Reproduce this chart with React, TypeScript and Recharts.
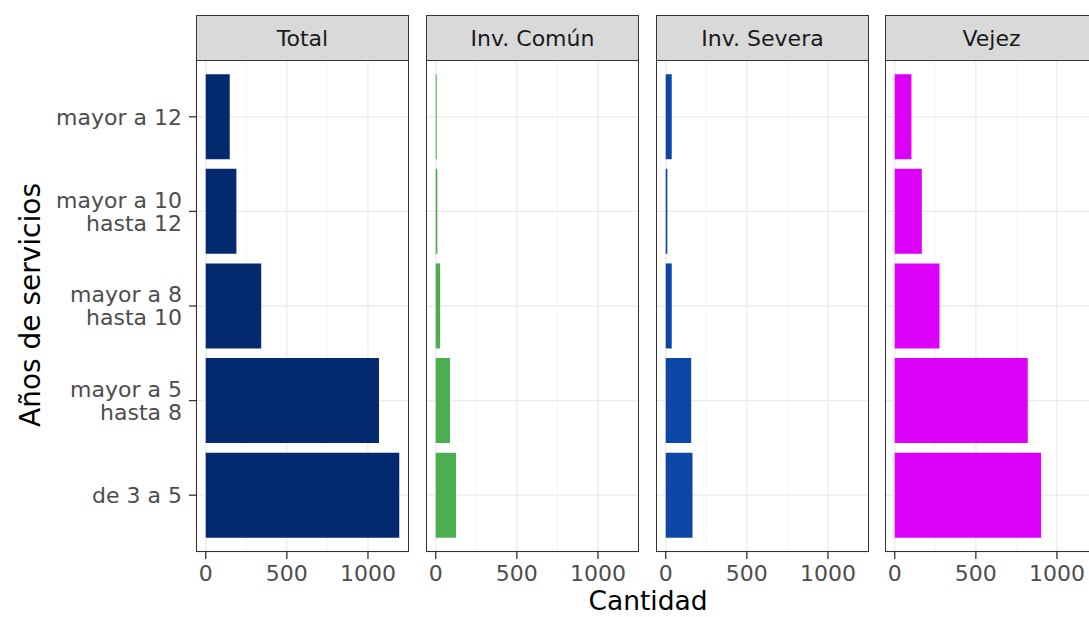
import React from 'react';
import { BarChart, Bar, XAxis, YAxis, CartesianGrid } from 'recharts';

// años de servicio (de arriba hacia abajo)
const categories = ['mayor a 12', 'mayor a 10\nhasta 12', 'mayor a 8\nhasta 10', 'mayor a 5\nhasta 8', 'de 3 a 5'];

const total = [148, 189, 342, 1068, 1193];
const invComun = [6, 10, 27, 88, 125];
const invSevera = [37, 10, 37, 157, 165];
const vejez = [103, 167, 276, 820, 902];

const facetTitles = ['Total', 'Inv. Común', 'Inv. Severa', 'Vejez'];
const facetColors = ['#03296e', '#4cae4f', '#0c47a5', '#dd00f8'];
const xTicks = [0, 500, 1000];
const minorTicks = [250, 750];
const X_DOMAIN: [number, number] = [-60, 1253];

const FONT = '"DejaVu Sans", sans-serif';
const PANEL_X = [196, 426, 656, 885];
const PANEL_W = 213;
const PANEL_TOP = 60;
const PANEL_H = 492;

const YTick = (props: any) => {
  const { x, y, payload } = props;
  const lines = String(payload.value).split('\n');
  const lh = 23;
  const start = -((lines.length - 1) * lh) / 2;
  return (
    <text x={x} y={y} textAnchor="end" fill="#4d4d4d" fontSize={22} fontFamily={FONT}>
      {lines.map((l, i) => (
        <tspan key={i} x={x} y={y + start + i * lh} dy="0.36em">
          {l}
        </tspan>
      ))}
    </text>
  );
};

const XTick = (props: any) => {
  const { x, y, payload } = props;
  return (
    <text x={x} y={y + 22} textAnchor="middle" fill="#4d4d4d" fontSize={22} fontFamily={FONT}>
      {payload.value}
    </text>
  );
};

// minor grid lines (ggplot draws them halfway between the major breaks)
const minorLines = ({ xAxis, offset }: any) =>
  minorTicks.map((t) => {
    if (xAxis && typeof xAxis.scale === 'function') return xAxis.scale(t);
    return offset.left + ((t - X_DOMAIN[0]) / (X_DOMAIN[1] - X_DOMAIN[0])) * offset.width;
  });

function Facet({ idx, values }: { idx: number; values: number[] }) {
  const data = categories.map((c, i) => ({ cat: c, value: values[i] }));
  const first = idx === 0;
  const left = first ? 0 : PANEL_X[idx];
  const width = first ? PANEL_X[0] + PANEL_W : PANEL_W;
  return (
    <div style={{ position: 'absolute', left, top: PANEL_TOP }}>
      <BarChart
        width={width}
        height={PANEL_H + 60}
        data={data}
        layout="vertical"
        margin={{ top: 0, right: 0, bottom: 0, left: 0 }}
        barCategoryGap="5%"
      >
        <CartesianGrid stroke="#f2f2f2" strokeWidth={0.7} horizontal={false} verticalCoordinatesGenerator={minorLines} />
        <CartesianGrid stroke="#ebebeb" strokeWidth={1.3} />
        <XAxis
          type="number"
          domain={X_DOMAIN}
          ticks={xTicks}
          allowDataOverflow
          height={60}
          axisLine={false}
          tickSize={7}
          tickMargin={0}
          tickLine={{ stroke: '#333333', strokeWidth: 1.3 }}
          tick={<XTick />}
        />
        <YAxis
          type="category"
          dataKey="cat"
          hide={!first}
          width={first ? PANEL_X[0] : 0}
          padding={{ top: 9.5, bottom: 9.5 }}
          axisLine={false}
          tickSize={7}
          tickMargin={7}
          tickLine={{ stroke: '#333333', strokeWidth: 1.3 }}
          tick={<YTick />}
          interval={0}
        />
        <Bar dataKey="value" fill={facetColors[idx]} isAnimationActive={false} />
      </BarChart>
    </div>
  );
}

export default function App() {
  const series = [total, invComun, invSevera, vejez];
  return (
    <div
      style={{
        position: 'absolute',
        left: 0,
        top: 0,
        width: 1089,
        height: 617,
        overflow: 'hidden',
        background: '#ffffff',
        fontFamily: FONT,
      }}
    >
      {series.map((vals, i) => (
        <Facet key={i} idx={i} values={vals} />
      ))}
      {PANEL_X.map((px, i) => (
        <React.Fragment key={i}>
          <div
            style={{
              position: 'absolute',
              left: px,
              top: PANEL_TOP,
              width: PANEL_W,
              height: PANEL_H,
              border: '1.3px solid #333333',
              boxSizing: 'border-box',
              pointerEvents: 'none',
            }}
          />
          <div
            style={{
              position: 'absolute',
              left: px,
              top: 15,
              width: PANEL_W,
              height: 46,
              background: '#d9d9d9',
              border: '1.3px solid #333333',
              boxSizing: 'border-box',
              display: 'flex',
              alignItems: 'center',
              justifyContent: 'center',
              fontSize: 22,
              color: '#1a1a1a',
            }}
          >
            {facetTitles[i]}
          </div>
        </React.Fragment>
      ))}
      <svg width={1089} height={617} style={{ position: 'absolute', left: 0, top: 0, pointerEvents: 'none' }}>
        <text x={648} y={610} textAnchor="middle" fontSize={26.5} fontFamily={FONT} fill="#000000">
          Cantidad
        </text>
        <text
          x={40}
          y={305}
          transform="rotate(-90 40 305)"
          textAnchor="middle"
          fontSize={28}
          fontFamily={FONT}
          fill="#000000"
        >
          Años de servicios
        </text>
      </svg>
    </div>
  );
}
